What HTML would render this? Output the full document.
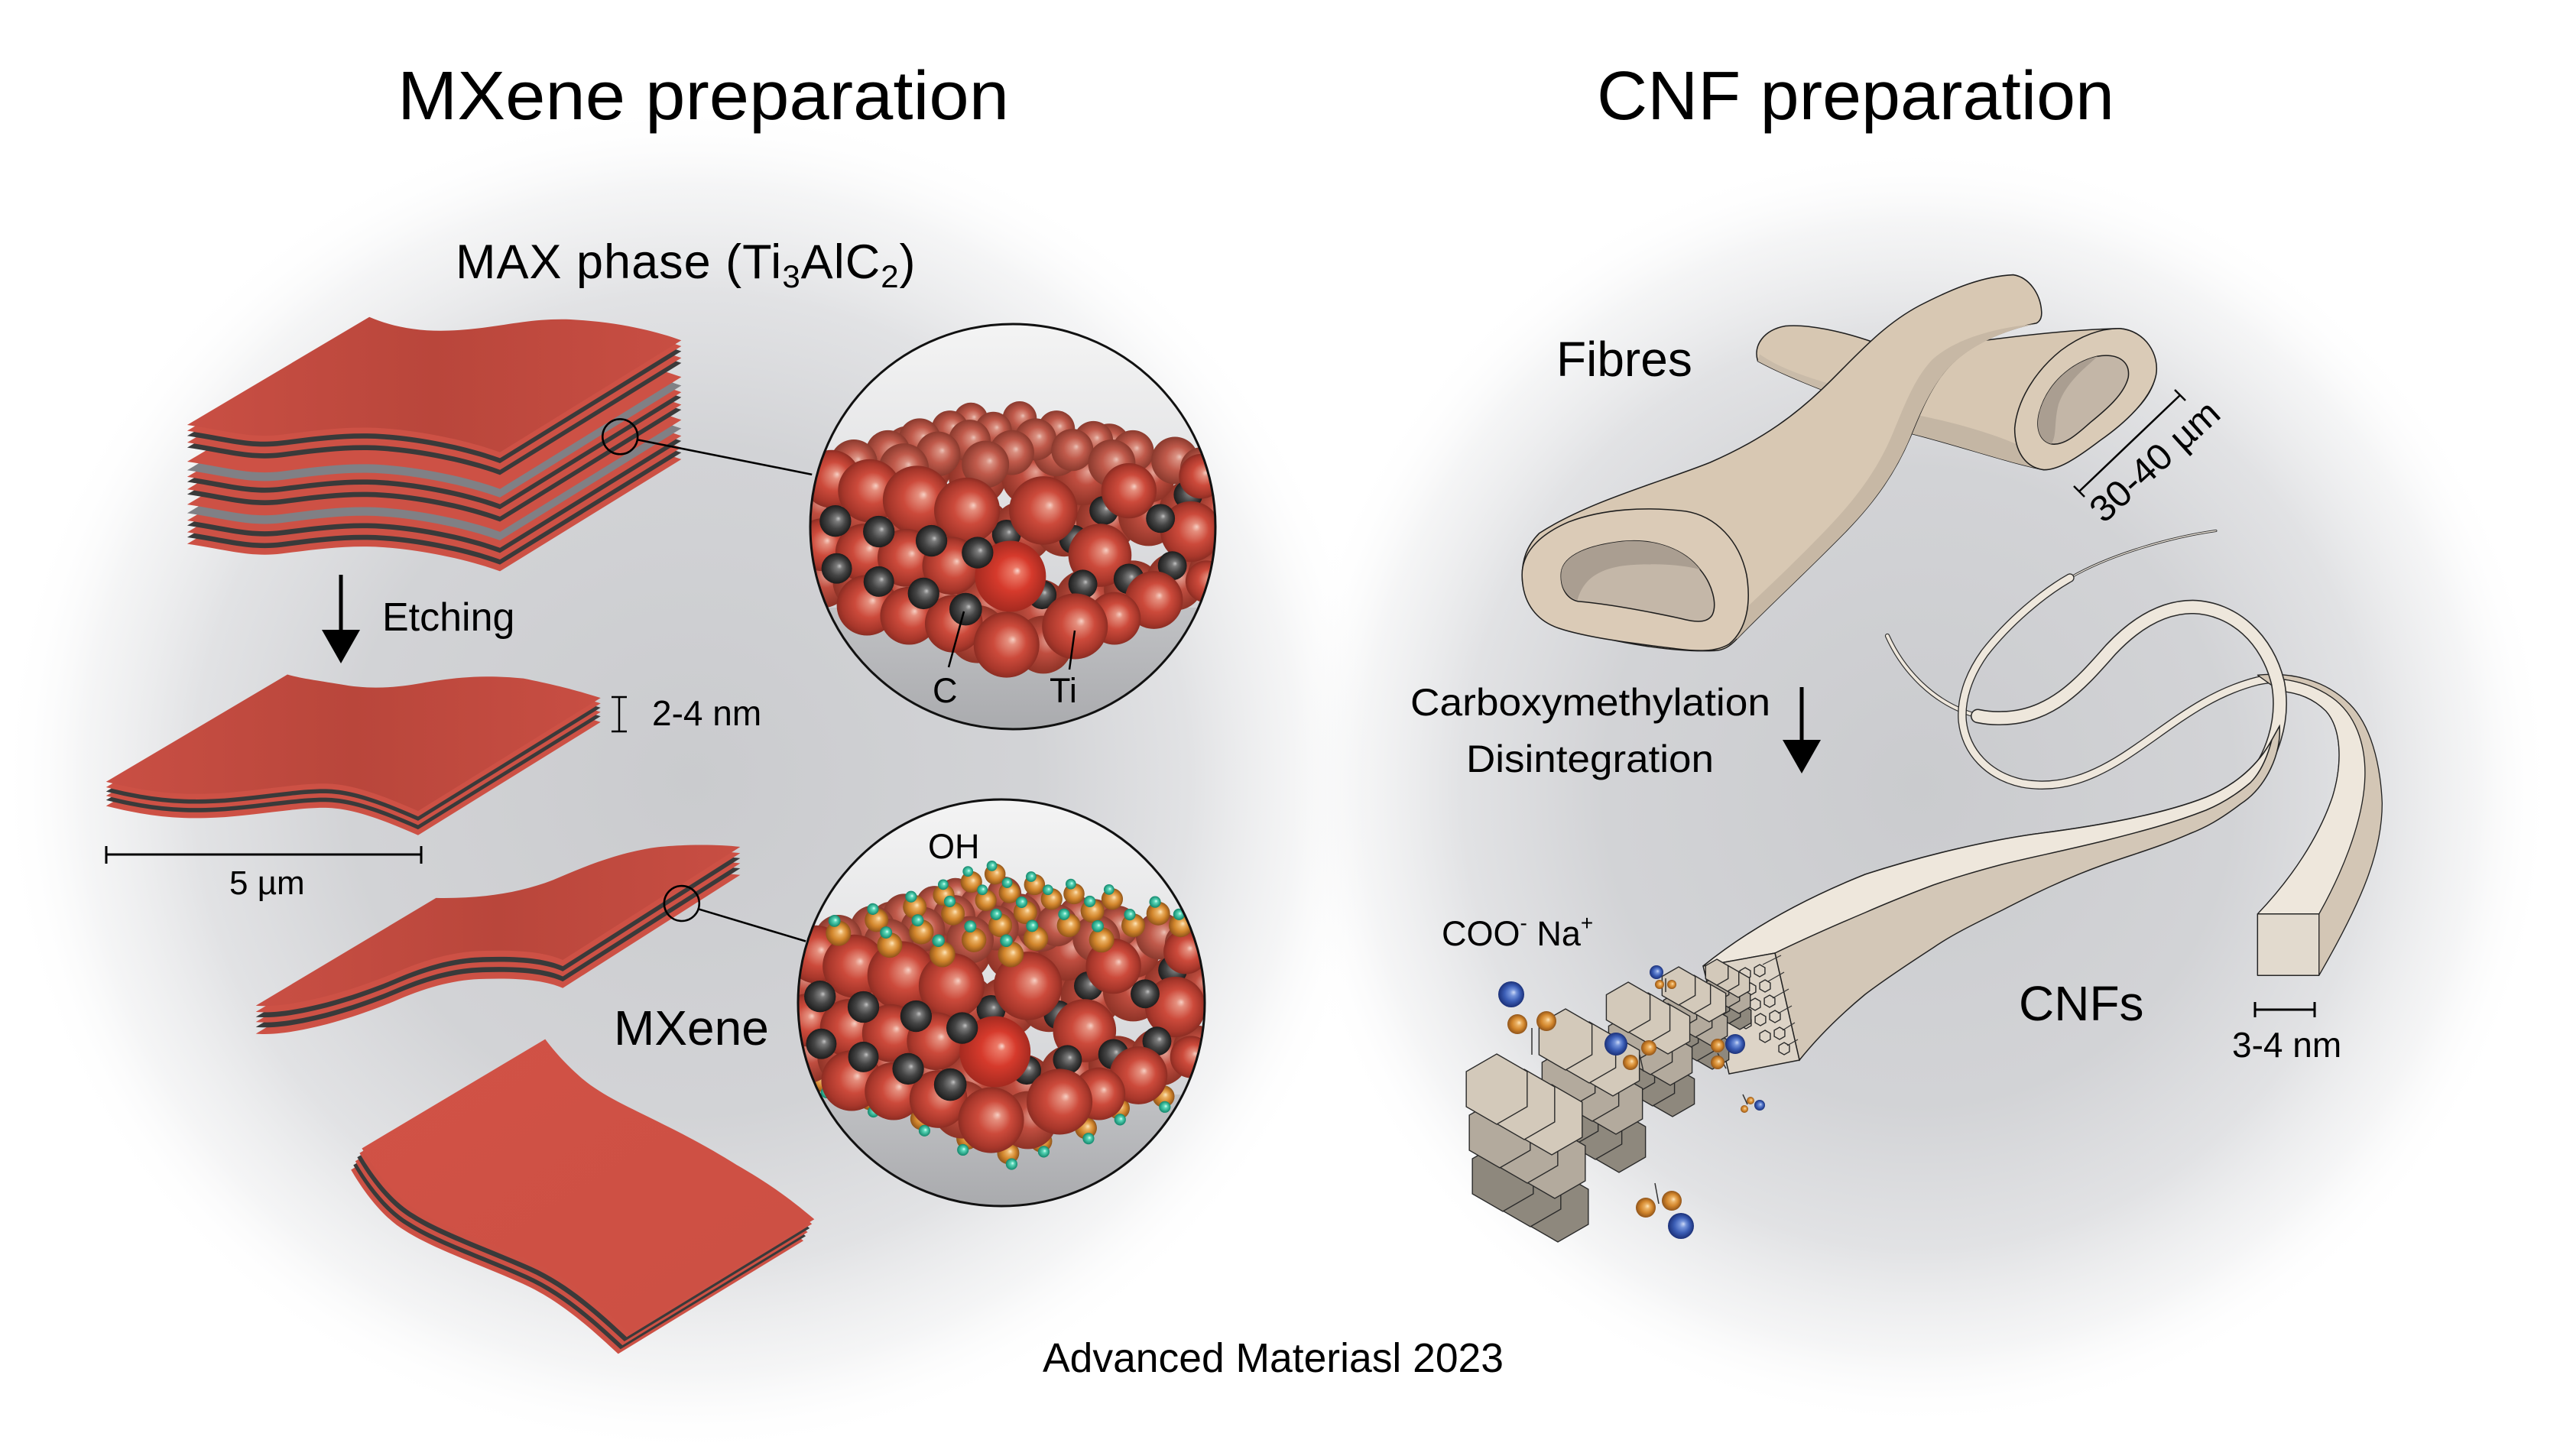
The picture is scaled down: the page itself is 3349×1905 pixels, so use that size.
<!DOCTYPE html>
<html>
<head>
<meta charset="utf-8">
<style>
html,body{margin:0;padding:0;background:#fff;}
body{width:3349px;height:1905px;overflow:hidden;}
svg{display:block;}
text{font-family:"Liberation Sans",Arial,sans-serif;fill:#000;}
</style>
</head>
<body>
<svg xmlns="http://www.w3.org/2000/svg" width="3349" height="1905" viewBox="0 0 3349 1905">
<defs>
  <radialGradient id="bgL" cx="0.5" cy="0.5" r="0.5">
    <stop offset="0" stop-color="#cacbce" stop-opacity="1"/>
    <stop offset="0.5" stop-color="#d0d1d4" stop-opacity="0.95"/>
    <stop offset="0.72" stop-color="#d6d7da" stop-opacity="0.72"/>
    <stop offset="0.88" stop-color="#e2e3e5" stop-opacity="0.35"/>
    <stop offset="1" stop-color="#ffffff" stop-opacity="0"/>
  </radialGradient>
  <linearGradient id="topMax" x1="0" y1="0" x2="1" y2="0">
    <stop offset="0" stop-color="#c94f44"/>
    <stop offset="0.5" stop-color="#b9463b"/>
    <stop offset="1" stop-color="#c84e43"/>
  </linearGradient>
  <linearGradient id="topS4" x1="0" y1="0" x2="1" y2="1">
    <stop offset="0" stop-color="#d15246"/>
    <stop offset="1" stop-color="#cc4f43"/>
  </linearGradient>
  <radialGradient id="gR" cx="0.5" cy="0.5" r="0.5" fx="0.6" fy="0.42">
    <stop offset="0" stop-color="#f7d0c4"/>
    <stop offset="0.14" stop-color="#e58f7e"/>
    <stop offset="0.5" stop-color="#cc4a3b"/>
    <stop offset="0.85" stop-color="#a8372b"/>
    <stop offset="1" stop-color="#8c2d23"/>
  </radialGradient>
  <radialGradient id="gR2" cx="0.5" cy="0.5" r="0.5" fx="0.6" fy="0.42">
    <stop offset="0" stop-color="#ecc3b8"/>
    <stop offset="0.15" stop-color="#d98f80"/>
    <stop offset="0.5" stop-color="#c05a4b"/>
    <stop offset="1" stop-color="#8a3a2e"/>
  </radialGradient>
  <radialGradient id="gR3" cx="0.5" cy="0.5" r="0.5" fx="0.6" fy="0.42">
    <stop offset="0" stop-color="#e5a497"/>
    <stop offset="0.4" stop-color="#c04e40"/>
    <stop offset="1" stop-color="#8e3327"/>
  </radialGradient>
  <radialGradient id="gRb" cx="0.5" cy="0.5" r="0.5" fx="0.6" fy="0.42">
    <stop offset="0" stop-color="#f9d9d0"/>
    <stop offset="0.12" stop-color="#ec7a68"/>
    <stop offset="0.5" stop-color="#d63a2c"/>
    <stop offset="1" stop-color="#a52a20"/>
  </radialGradient>
  <radialGradient id="gK" cx="0.5" cy="0.5" r="0.5" fx="0.6" fy="0.42">
    <stop offset="0" stop-color="#c4c4c4"/>
    <stop offset="0.18" stop-color="#7c7c7c"/>
    <stop offset="0.55" stop-color="#454545"/>
    <stop offset="1" stop-color="#1c1c1c"/>
  </radialGradient>
  <radialGradient id="gO" cx="0.5" cy="0.5" r="0.5" fx="0.6" fy="0.42">
    <stop offset="0" stop-color="#fde6bb"/>
    <stop offset="0.25" stop-color="#eab063"/>
    <stop offset="0.6" stop-color="#d2862c"/>
    <stop offset="1" stop-color="#90541a"/>
  </radialGradient>
  <radialGradient id="gT" cx="0.5" cy="0.5" r="0.5" fx="0.6" fy="0.42">
    <stop offset="0" stop-color="#e0fff6"/>
    <stop offset="0.3" stop-color="#5ad8b9"/>
    <stop offset="1" stop-color="#12876c"/>
  </radialGradient>
  <radialGradient id="gB" cx="0.5" cy="0.5" r="0.5" fx="0.6" fy="0.42">
    <stop offset="0" stop-color="#cdd9f6"/>
    <stop offset="0.25" stop-color="#7493da"/>
    <stop offset="0.6" stop-color="#3b5db5"/>
    <stop offset="1" stop-color="#1b3078"/>
  </radialGradient>
  <linearGradient id="cbg" x1="0" y1="0" x2="0" y2="1">
    <stop offset="0" stop-color="#f4f4f4"/>
    <stop offset="0.7" stop-color="#d4d5d8"/>
    <stop offset="1" stop-color="#c8c9cc"/>
  </linearGradient>
  <linearGradient id="floor" x1="0" y1="0" x2="0" y2="1">
    <stop offset="0" stop-color="#c1c2c5"/>
    <stop offset="1" stop-color="#a7a8ab"/>
  </linearGradient>
  <clipPath id="c1"><circle cx="1325" cy="689" r="265"/></clipPath>
  <clipPath id="c2"><circle cx="1310" cy="1312" r="266"/></clipPath>

  <!-- slab shapes -->
  <path id="s1" d="M88,345 C190,360 250,380 330,370 S480,350 560,352 S780,375 890,415 L1355,128 C1300,108 1200,80 1060,74 C950,72 880,98 760,103 C680,106 610,92 555,68 Z"/>
  <path id="s2" d="M-120,1260 C-20,1285 60,1295 160,1290 S380,1262 450,1265 S600,1300 680,1335 L1148,1045 C1100,1030 1050,1015 950,995 C850,985 780,992 700,1005 C630,1018 560,1025 480,1010 C420,1000 380,995 345,985 Z"/>
  <path id="s3" d="M68,462 C150,470 300,430 420,380 C500,345 570,325 640,322 C740,318 810,325 855,345 L1310,55 C1250,48 1150,48 1080,58 C980,75 900,110 830,140 C740,175 640,188 530,186 Z"/>
  <path id="s4" d="M340,828 C370,880 420,950 480,985 C550,1030 680,1075 780,1120 C880,1165 960,1240 1025,1300 L1500,1010 C1430,950 1370,910 1300,870 C1220,820 1160,790 1100,760 C1030,725 950,690 900,645 C860,610 830,575 810,548 Z"/>

  <path id="hx" d="M0,-1 L0.866,-0.5 L0.866,0.5 L0,1 L-0.866,0.5 L-0.866,-0.5 Z" stroke="#2a2a2a" stroke-width="1.4" vector-effect="non-scaling-stroke"/>

  <g id="atoms">
    <!-- filler base layer -->
    <g fill="url(#gR3)">
      <circle cx="40" cy="700" r="110"/><circle cx="190" cy="720" r="115"/><circle cx="340" cy="740" r="115"/><circle cx="500" cy="760" r="115"/><circle cx="660" cy="790" r="115"/><circle cx="820" cy="800" r="115"/><circle cx="980" cy="780" r="115"/><circle cx="1140" cy="760" r="115"/><circle cx="1300" cy="740" r="115"/><circle cx="1450" cy="720" r="110"/><circle cx="1560" cy="720" r="90"/>
      <circle cx="60" cy="980" r="110"/><circle cx="210" cy="990" r="110"/><circle cx="360" cy="1010" r="110"/><circle cx="520" cy="1040" r="110"/><circle cx="680" cy="1080" r="115"/><circle cx="880" cy="1100" r="120"/><circle cx="1060" cy="1060" r="115"/><circle cx="1240" cy="1020" r="110"/><circle cx="1400" cy="990" r="110"/><circle cx="1540" cy="960" r="90"/>
      <circle cx="900" cy="1230" r="110"/><circle cx="650" cy="1190" r="110"/>
      <circle cx="450" cy="560" r="100"/><circle cx="650" cy="590" r="110"/><circle cx="850" cy="590" r="110"/><circle cx="1050" cy="590" r="110"/><circle cx="1300" cy="590" r="100"/><circle cx="250" cy="610" r="100"/>
    </g>
    <g fill="url(#gR2)">
      <circle cx="950" cy="500" r="90"/><circle cx="1150" cy="470" r="80"/><circle cx="700" cy="470" r="80"/><circle cx="380" cy="480" r="80"/>
      <circle cx="625" cy="375" r="65"/><circle cx="810" cy="370" r="65"/>
      <circle cx="545" cy="410" r="70"/><circle cx="710" cy="415" r="70"/><circle cx="950" cy="410" r="70"/>
      <circle cx="430" cy="450" r="80"/><circle cx="620" cy="455" r="80"/><circle cx="870" cy="450" r="80"/><circle cx="1090" cy="455" r="75"/>
      <circle cx="310" cy="500" r="85"/><circle cx="500" cy="505" r="85"/><circle cx="780" cy="500" r="85"/><circle cx="1010" cy="490" r="80"/><circle cx="1240" cy="495" r="80"/>
      <circle cx="180" cy="540" r="90"/><circle cx="370" cy="560" r="95"/><circle cx="680" cy="545" r="90"/><circle cx="1160" cy="540" r="90"/><circle cx="1400" cy="530" r="90"/><circle cx="1500" cy="560" r="80"/>
      <circle cx="60" cy="590" r="95"/>
    </g>
    <g fill="url(#gK)">
      <circle cx="760" cy="810" r="55"/><circle cx="1130" cy="720" r="55"/><circle cx="1450" cy="660" r="55"/><circle cx="1015" cy="830" r="55"/>
    </g>
    <g fill="url(#gR)">
      <circle cx="95" cy="600" r="110"/><circle cx="240" cy="645" r="120"/><circle cx="420" cy="680" r="130"/><circle cx="610" cy="720" r="125"/><circle cx="900" cy="720" r="130"/><circle cx="1225" cy="645" r="105"/><circle cx="1500" cy="590" r="85"/>
      <circle cx="60" cy="850" r="100"/><circle cx="220" cy="880" r="110"/><circle cx="380" cy="900" r="110"/><circle cx="550" cy="930" r="110"/><circle cx="1115" cy="890" r="120"/><circle cx="1460" cy="800" r="115"/>
    </g>
    <g fill="url(#gK)">
      <circle cx="895" cy="1040" r="55"/><circle cx="1050" cy="1000" r="55"/><circle cx="1225" cy="980" r="58"/><circle cx="1390" cy="930" r="55"/><circle cx="1345" cy="750" r="55"/>
    </g>
    <g fill="url(#gR)">
      <circle cx="230" cy="1080" r="115"/><circle cx="390" cy="1120" r="110"/><circle cx="560" cy="1150" r="110"/><circle cx="1320" cy="1060" r="110"/><circle cx="1520" cy="990" r="80"/><circle cx="1170" cy="1130" r="100"/><circle cx="1020" cy="1160" r="125"/><circle cx="760" cy="1230" r="125"/>
    </g>
    <circle cx="775" cy="970" r="135" fill="url(#gRb)"/>
    <g fill="url(#gK)">
      <circle cx="110" cy="760" r="60"/><circle cx="275" cy="800" r="60"/><circle cx="475" cy="835" r="60"/><circle cx="650" cy="880" r="60"/>
      <circle cx="115" cy="940" r="58"/><circle cx="275" cy="990" r="58"/><circle cx="445" cy="1035" r="60"/><circle cx="605" cy="1095" r="62"/>
    </g>
  </g>
</defs>

<!-- background -->
<rect width="3349" height="1905" fill="#fff"/>
<ellipse cx="905" cy="1020" rx="905" ry="885" fill="url(#bgL)"/>
<ellipse cx="2510" cy="1030" rx="830" ry="840" fill="url(#bgL)"/>

<!-- titles -->
<text x="520" y="156" font-size="90" textLength="800" lengthAdjust="spacingAndGlyphs">MXene preparation</text>
<text x="2089" y="156" font-size="90" textLength="677" lengthAdjust="spacingAndGlyphs">CNF preparation</text>

<!-- MAX phase label -->
<text x="596" y="364" font-size="63" letter-spacing="1">MAX phase (Ti<tspan font-size="42" dy="12">3</tspan><tspan dy="-12">AlC</tspan><tspan font-size="42" dy="12">2</tspan><tspan dy="-12">)</tspan></text>

<!-- MAX stack and slab 2 (zoom5 coords) -->
<g transform="translate(200,380) scale(0.5102)">
  <use href="#s1" y="305" fill="#cd5145"/>
  <use href="#s1" y="288" fill="#3a3a3a"/>
  <use href="#s1" y="275" fill="#cd5145"/>
  <use href="#s1" y="258" fill="#3a3a3a"/>
  <use href="#s1" y="245" fill="#cd5145"/>
  <use href="#s1" y="226" fill="#808085"/>
  <use href="#s1" y="204" fill="#cd5145"/>
  <use href="#s1" y="178" fill="#3a3a3a"/>
  <use href="#s1" y="165" fill="#cd5145"/>
  <use href="#s1" y="146" fill="#3a3a3a"/>
  <use href="#s1" y="133" fill="#cd5145"/>
  <use href="#s1" y="116" fill="#808085"/>
  <use href="#s1" y="94" fill="#cd5145"/>
  <use href="#s1" y="58" fill="#3a3a3a"/>
  <use href="#s1" y="45" fill="#cd5145"/>
  <use href="#s1" y="28" fill="#3a3a3a"/>
  <use href="#s1" y="15" fill="#cd5145"/>
  <use href="#s1" fill="url(#topMax)"/>

  <use href="#s2" y="62" fill="#cd5145"/>
  <use href="#s2" y="47" fill="#3a3a3a"/>
  <use href="#s2" y="36" fill="#cd5145"/>
  <use href="#s2" y="25" fill="#3a3a3a"/>
  <use href="#s2" y="14" fill="#cd5145"/>
  <use href="#s2" fill="url(#topMax)"/>

  <circle cx="1198" cy="375" r="45" fill="none" stroke="#000" stroke-width="5"/>
  <line x1="1243" y1="383" x2="1690" y2="472" stroke="#000" stroke-width="5"/>
</g>

<!-- Etching arrow -->
<rect x="443.5" y="752" width="5" height="76" fill="#000"/>
<polygon points="421,824 471,824 446,868" fill="#000"/>
<text x="500" y="825" font-size="52">Etching</text>

<!-- 2-4 nm -->
<g stroke="#000" stroke-width="2.5">
  <line x1="810" y1="912" x2="810" y2="957"/>
  <line x1="800" y1="912" x2="820" y2="912"/>
  <line x1="800" y1="957" x2="820" y2="957"/>
</g>
<text x="853" y="949" font-size="46">2-4 nm</text>

<!-- 5 um -->
<g stroke="#000" stroke-width="3">
  <line x1="139" y1="1118" x2="551" y2="1118"/>
  <line x1="139" y1="1107" x2="139" y2="1130"/>
  <line x1="551" y1="1107" x2="551" y2="1130"/>
</g>
<text x="300" y="1170" font-size="44">5 µm</text>

<!-- circle 1 -->
<circle cx="1325" cy="689" r="265" fill="url(#cbg)"/>
<g clip-path="url(#c1)">
  <rect x="1050" y="795" width="560" height="180" fill="url(#floor)"/>
  <use href="#atoms" transform="translate(1055,420) scale(0.34435)"/>
</g>
<circle cx="1325" cy="689" r="265" fill="none" stroke="#111" stroke-width="3"/>
<g stroke="#000" stroke-width="2.5">
  <line x1="1261" y1="800" x2="1241" y2="873"/>
  <line x1="1406" y1="825" x2="1399" y2="876"/>
</g>
<text x="1220" y="919" font-size="45">C</text>
<text x="1373" y="919" font-size="45">Ti</text>

<!-- slab 3 and slab 4 (zoom6 coords) -->
<g transform="translate(300,1080) scale(0.5102)">
  <use href="#s3" y="72" fill="#cd5145"/>
  <use href="#s3" y="55" fill="#3a3a3a"/>
  <use href="#s3" y="42" fill="#cd5145"/>
  <use href="#s3" y="29" fill="#3a3a3a"/>
  <use href="#s3" y="16" fill="#cd5145"/>
  <use href="#s3" fill="url(#topMax)"/>

  <use href="#s4" transform="translate(-28,55)" fill="#cd5145"/>
  <use href="#s4" transform="translate(-22,43)" fill="#3a3a3a"/>
  <use href="#s4" transform="translate(-17,33)" fill="#cd5145"/>
  <use href="#s4" transform="translate(-12,23)" fill="#3a3a3a"/>
  <use href="#s4" transform="translate(-6,12)" fill="#cd5145"/>
  <use href="#s4" fill="url(#topS4)"/>

  <circle cx="1160" cy="200" r="45" fill="none" stroke="#000" stroke-width="5"/>
  <line x1="1205" y1="215" x2="1478" y2="297" stroke="#000" stroke-width="5"/>
</g>
<text x="803" y="1367" font-size="64">MXene</text>

<!-- circle 2 -->
<circle cx="1310" cy="1312" r="266" fill="url(#cbg)"/>
<g clip-path="url(#c2)">
  <rect x="1040" y="1432" width="560" height="160" fill="url(#floor)"/>
  <g transform="translate(1040,1042) scale(0.34435)">
    <g fill="url(#gO)">
      <circle cx="100" cy="1080" r="42"/><circle cx="285" cy="1150" r="42"/><circle cx="480" cy="1225" r="42"/><circle cx="655" cy="1300" r="42"/><circle cx="810" cy="1355" r="42"/><circle cx="935" cy="1310" r="42"/><circle cx="1105" cy="1260" r="42"/><circle cx="1230" cy="1185" r="42"/><circle cx="1400" cy="1140" r="42"/>
    </g>
    <g fill="url(#gT)">
      <circle cx="120" cy="1125" r="22"/><circle cx="298" cy="1198" r="22"/><circle cx="492" cy="1270" r="22"/><circle cx="638" cy="1343" r="22"/><circle cx="823" cy="1397" r="22"/><circle cx="945" cy="1350" r="22"/><circle cx="1115" cy="1300" r="22"/><circle cx="1235" cy="1228" r="22"/><circle cx="1405" cy="1180" r="22"/>
    </g>
    <use href="#atoms" x="-15" y="0"/>
    <g>
      <circle cx="760" cy="295" r="40" fill="url(#gO)"/><circle cx="748" cy="264" r="20" fill="url(#gT)"/>
      <circle cx="670" cy="325" r="41" fill="url(#gO)"/><circle cx="657" cy="285" r="20" fill="url(#gT)"/>
      <circle cx="910" cy="335" r="40" fill="url(#gO)"/><circle cx="897" cy="305" r="20" fill="url(#gT)"/>
      <circle cx="815" cy="365" r="41" fill="url(#gO)"/><circle cx="806" cy="328" r="20" fill="url(#gT)"/>
      <circle cx="1060" cy="370" r="40" fill="url(#gO)"/><circle cx="1048" cy="333" r="20" fill="url(#gT)"/>
      <circle cx="565" cy="375" r="41" fill="url(#gO)"/><circle cx="563" cy="335" r="20" fill="url(#gT)"/>
      <circle cx="975" cy="390" r="41" fill="url(#gO)"/><circle cx="961" cy="355" r="20" fill="url(#gT)"/>
      <circle cx="1205" cy="390" r="41" fill="url(#gO)"/><circle cx="1193" cy="354" r="20" fill="url(#gT)"/>
      <circle cx="725" cy="395" r="41" fill="url(#gO)"/><circle cx="712" cy="355" r="20" fill="url(#gT)"/>
      <circle cx="455" cy="420" r="45" fill="url(#gO)"/><circle cx="441" cy="381" r="22" fill="url(#gT)"/>
      <circle cx="1130" cy="435" r="45" fill="url(#gO)"/><circle cx="1120" cy="399" r="22" fill="url(#gT)"/>
      <circle cx="875" cy="440" r="45" fill="url(#gO)"/><circle cx="861" cy="402" r="22" fill="url(#gT)"/>
      <circle cx="600" cy="445" r="45" fill="url(#gO)"/><circle cx="588" cy="399" r="22" fill="url(#gT)"/>
      <circle cx="1380" cy="445" r="45" fill="url(#gO)"/><circle cx="1368" cy="401" r="22" fill="url(#gT)"/>
      <circle cx="310" cy="470" r="45" fill="url(#gO)"/><circle cx="296" cy="428" r="22" fill="url(#gT)"/>
      <circle cx="780" cy="490" r="45" fill="url(#gO)"/><circle cx="764" cy="448" r="22" fill="url(#gT)"/>
      <circle cx="1040" cy="490" r="45" fill="url(#gO)"/><circle cx="1022" cy="448" r="22" fill="url(#gT)"/>
      <circle cx="1285" cy="490" r="45" fill="url(#gO)"/><circle cx="1272" cy="449" r="22" fill="url(#gT)"/>
      <circle cx="1465" cy="490" r="45" fill="url(#gO)"/><circle cx="1459" cy="448" r="22" fill="url(#gT)"/>
      <circle cx="480" cy="515" r="47" fill="url(#gO)"/><circle cx="466" cy="471" r="23" fill="url(#gT)"/>
      <circle cx="165" cy="520" r="48" fill="url(#gO)"/><circle cx="150" cy="473" r="23" fill="url(#gT)"/>
      <circle cx="915" cy="540" r="47" fill="url(#gO)"/><circle cx="901" cy="492" r="23" fill="url(#gT)"/>
      <circle cx="680" cy="545" r="47" fill="url(#gO)"/><circle cx="666" cy="494" r="23" fill="url(#gT)"/>
      <circle cx="1165" cy="545" r="48" fill="url(#gO)"/><circle cx="1150" cy="493" r="23" fill="url(#gT)"/>
      <circle cx="360" cy="565" r="48" fill="url(#gO)"/><circle cx="346" cy="517" r="23" fill="url(#gT)"/>
      <circle cx="560" cy="600" r="49" fill="url(#gO)"/><circle cx="545" cy="548" r="24" fill="url(#gT)"/>
      <circle cx="820" cy="600" r="49" fill="url(#gO)"/><circle cx="803" cy="548" r="24" fill="url(#gT)"/>
    </g>
  </g>
</g>
<circle cx="1310" cy="1312" r="266" fill="none" stroke="#111" stroke-width="3"/>
<text x="1214" y="1123" font-size="45">OH</text>

<!-- ================= CNF side ================= -->
<text x="2036" y="492" font-size="64">Fibres</text>

<!-- fibres (zoom7 coords) -->
<g transform="translate(1950,350) scale(0.6378)" stroke="#1e1e1e" stroke-width="2.4" stroke-linejoin="round">
  <path d="M548,192 C538,160 560,128 605,120 C650,116 720,130 790,155 L1010,150 C1100,138 1200,127 1290,125 C1340,128 1368,175 1365,215 C1360,262 1320,300 1270,338 C1220,378 1180,410 1135,415 C1060,400 960,365 860,340 C800,320 740,290 690,255 C640,235 590,215 548,192 Z" fill="#d7c7b2"/>
  <path d="M860,300 C960,318 1060,350 1112,378 L1135,415 C1060,400 960,365 860,340 Z" fill="#c4b6a4" stroke="none"/>
  <path d="M548,192 C590,215 640,235 690,255 L700,240 C640,222 590,205 552,178 Z" fill="#c9bba9" stroke="none"/>
  <path d="M1290,125 C1345,130 1372,180 1365,220 C1355,270 1300,320 1250,355 C1200,393 1165,415 1135,415 C1095,410 1075,375 1075,330 C1080,270 1120,210 1170,170 C1210,140 1250,125 1290,125 Z" fill="#dacbb7"/>
  <path d="M1125,300 C1140,240 1190,195 1245,182 C1290,175 1312,195 1308,225 C1300,260 1262,292 1230,318 C1200,345 1175,366 1150,362 C1126,356 1118,330 1125,300 Z" fill="#c3b6a7"/>
  <path d="M1125,300 C1140,240 1190,195 1245,182 C1225,202 1182,232 1165,280 C1155,318 1162,345 1150,362 C1126,356 1118,330 1125,300 Z" fill="#aa9e91" stroke="none"/>

  <path d="M100,545 C200,480 350,440 450,400 C560,352 630,300 700,230 C760,170 810,115 880,78 C950,42 1010,18 1072,15 C1105,20 1128,55 1130,90 C1131,102 1127,110 1120,114 C1050,128 985,158 945,198 C905,238 880,300 860,350 C830,420 790,478 730,540 C650,622 565,700 505,762 C490,778 478,785 460,786 C380,790 250,770 170,742 C110,722 68,690 65,640 C63,600 75,570 100,545 Z" fill="#d8c8b3"/>
  <path d="M1116,116 C1050,130 985,160 945,200 C905,240 880,300 860,350 C830,420 790,478 730,540 C650,622 565,700 505,762 L485,735 C560,665 640,590 705,520 C765,455 800,400 825,340 C848,285 868,230 905,190 C950,148 1030,124 1116,116 Z" fill="#c7b8a5" stroke="none"/>
  <path d="M65,640 C60,590 95,550 160,522 C230,495 320,490 400,500 C462,510 510,560 525,630 C535,690 525,742 490,772 C462,790 420,787 380,782 C300,772 200,760 140,740 C95,725 68,690 65,640 Z" fill="#dbcbb7"/>
  <path d="M145,625 C150,590 200,570 270,562 C340,555 400,580 430,620 C455,650 465,690 455,712 C445,730 420,728 390,720 C320,705 240,690 180,685 C155,680 142,655 145,625 Z" fill="#c4b7a8"/>
  <path d="M145,625 C150,590 200,570 270,562 C340,555 400,580 430,620 C400,610 330,605 270,612 C220,620 190,640 178,682 C155,676 142,655 145,625 Z" fill="#aa9e91" stroke="none"/>
</g>

<!-- 30-40 um -->
<g stroke="#000" stroke-width="2.5">
  <line x1="2720" y1="643" x2="2852" y2="517"/>
  <line x1="2713" y1="636" x2="2727" y2="650"/>
  <line x1="2845" y1="510" x2="2859" y2="524"/>
</g>
<text transform="translate(2752,686) rotate(-42.2)" font-size="48" textLength="210" lengthAdjust="spacingAndGlyphs">30-40 µm</text>

<!-- process labels -->
<text x="1845" y="936" font-size="50" textLength="471" lengthAdjust="spacingAndGlyphs">Carboxymethylation</text>
<text x="1918" y="1010" font-size="50" textLength="324" lengthAdjust="spacingAndGlyphs">Disintegration</text>
<rect x="2354.5" y="899" width="5" height="72" fill="#000"/>
<polygon points="2332,968 2382,968 2357,1012" fill="#000"/>

<!-- ribbons (zoom11 coords) -->
<g transform="translate(2440,640) scale(0.44643)" stroke-linecap="round" stroke-linejoin="round">
  <path d="M65,430 C110,530 200,630 330,665" fill="none" stroke="#2a2a2a" stroke-width="14"/>
  <path d="M65,430 C110,530 200,630 330,665" fill="none" stroke="#eee7dc" stroke-width="9"/>
  <path d="M1028,122 C900,140 720,190 600,260" fill="none" stroke="#2a2a2a" stroke-width="7"/>
  <path d="M1028,122 C900,140 720,190 600,260" fill="none" stroke="#eee7dc" stroke-width="3"/>
  <path d="M600,260 C520,305 420,390 350,480 C300,550 280,620 285,680 C295,770 360,840 460,862 C570,882 670,845 780,770 C900,690 1000,600 1150,562 C1180,556 1200,555 1220,556" fill="none" stroke="#2a2a2a" stroke-width="26"/>
  <path d="M600,260 C520,305 420,390 350,480 C300,550 280,620 285,680 C295,770 360,840 460,862 C570,882 670,845 780,770 C900,690 1000,600 1150,562 C1180,556 1200,555 1220,556" fill="none" stroke="#eee7dc" stroke-width="20"/>

  <path d="M1150,545 C1250,535 1350,560 1420,630 C1480,690 1510,800 1515,920 C1515,1060 1460,1200 1330,1425 L1150,1425 L1150,1245 C1250,1140 1330,1020 1370,900 C1400,800 1395,700 1350,650 C1310,610 1260,595 1215,592 Z" fill="#d3c6b5" stroke="#222" stroke-width="3"/>
  <path d="M1215,592 C1260,595 1310,610 1350,650 C1395,700 1400,800 1370,900 C1330,1020 1250,1140 1150,1245 L1330,1245 C1400,1120 1450,990 1462,880 C1475,760 1440,670 1380,620 C1330,580 1270,560 1200,555 Z" fill="#eee7dc" stroke="#222" stroke-width="3"/>
  <rect x="1150" y="1245" width="180" height="180" fill="#e2dace" stroke="#222" stroke-width="3"/>

  <path d="M330,665 C355,670 380,672 400,671 C550,670 640,560 720,470 C800,385 880,345 960,345 C1080,348 1180,440 1210,570 C1230,680 1190,790 1130,858" fill="none" stroke="#2a2a2a" stroke-width="42"/>
  <path d="M330,665 C355,670 380,672 400,671 C550,670 640,560 720,470 C800,385 880,345 960,345 C1080,348 1180,440 1210,570 C1230,680 1190,790 1130,858" fill="none" stroke="#eee7dc" stroke-width="35"/>
</g>

<!-- wide ribbon (real coords) -->
<path d="M2228,1264 C2280,1222 2350,1180 2440,1144 C2520,1118 2600,1100 2663,1091 C2750,1080 2830,1065 2886,1043 C2925,1027 2955,1000 2972,968 L2982,950 C2985,985 2965,1030 2931,1052 C2905,1072 2885,1083 2864,1091 C2825,1108 2790,1118 2753,1131 C2700,1150 2660,1170 2619,1191 C2580,1210 2552,1224 2529,1240 C2492,1264 2465,1282 2440,1301 C2405,1330 2378,1357 2354,1387 L2322,1247 Z" fill="#d3c7b7" stroke="#222" stroke-width="1.5"/>
<path d="M2228,1264 C2280,1222 2350,1180 2440,1144 C2520,1118 2600,1100 2663,1091 C2750,1080 2830,1065 2886,1043 C2925,1027 2955,1000 2972,968 C2965,995 2955,1013 2944,1024 C2925,1040 2905,1052 2886,1060 C2840,1078 2800,1088 2753,1100 C2700,1113 2660,1121 2619,1131 C2585,1140 2555,1149 2529,1158 C2492,1172 2465,1183 2440,1194 C2395,1213 2355,1231 2322,1247 Z" fill="#eee7dc" stroke="#222" stroke-width="1.5"/>
<!-- end face -->
<polygon points="2228,1264 2322,1247 2354,1387 2262,1405" fill="#ddd4c7" stroke="#222" stroke-width="1.5"/>
<g fill="none">
  <use href="#hx" transform="translate(2245,1282) scale(8)"/><use href="#hx" transform="translate(2264,1278) scale(8)"/><use href="#hx" transform="translate(2283,1274) scale(8)"/><use href="#hx" transform="translate(2302,1270) scale(8)"/>
  <use href="#hx" transform="translate(2252,1302) scale(8)"/><use href="#hx" transform="translate(2271,1298) scale(8)"/><use href="#hx" transform="translate(2290,1294) scale(8)"/><use href="#hx" transform="translate(2309,1290) scale(8)"/>
  <use href="#hx" transform="translate(2258,1322) scale(8)"/><use href="#hx" transform="translate(2277,1318) scale(8)"/><use href="#hx" transform="translate(2296,1314) scale(8)"/><use href="#hx" transform="translate(2315,1310) scale(8)"/>
  <use href="#hx" transform="translate(2284,1338) scale(8)"/><use href="#hx" transform="translate(2303,1334) scale(8)"/><use href="#hx" transform="translate(2322,1330) scale(8)"/>
  <use href="#hx" transform="translate(2309,1356) scale(8)"/><use href="#hx" transform="translate(2328,1352) scale(8)"/><use href="#hx" transform="translate(2334,1372) scale(8)"/>
</g>
<g stroke="#333" stroke-width="1.2">
  <line x1="2306" y1="1262" x2="2330" y2="1250"/><line x1="2313" y1="1284" x2="2334" y2="1272"/><line x1="2319" y1="1306" x2="2340" y2="1294"/>
  <line x1="2326" y1="1326" x2="2344" y2="1316"/><line x1="2332" y1="1348" x2="2348" y2="1338"/><line x1="2338" y1="1368" x2="2352" y2="1360"/>
</g>

<!-- bundle of hexagonal blocks -->
<g>
  <use href="#hx" transform="translate(2276,1330) scale(17)" fill="#8e887d"/><use href="#hx" transform="translate(2262,1322) scale(17)" fill="#8e887d"/><use href="#hx" transform="translate(2248,1314) scale(17)" fill="#8e887d"/>
  <use href="#hx" transform="translate(2275,1309) scale(17)" fill="#b3aa9d"/><use href="#hx" transform="translate(2261,1301) scale(17)" fill="#b3aa9d"/><use href="#hx" transform="translate(2247,1293) scale(17)" fill="#b3aa9d"/>
  <use href="#hx" transform="translate(2274,1288) scale(17)" fill="#d3c9ba"/><use href="#hx" transform="translate(2260,1280) scale(17)" fill="#d3c9ba"/><use href="#hx" transform="translate(2246,1272) scale(17)" fill="#d3c9ba"/>

  <use href="#hx" transform="translate(2240,1374) scale(25)" fill="#8e887d"/><use href="#hx" transform="translate(2220,1363) scale(25)" fill="#8e887d"/><use href="#hx" transform="translate(2200,1352) scale(25)" fill="#8e887d"/>
  <use href="#hx" transform="translate(2238,1343) scale(25)" fill="#b3aa9d"/><use href="#hx" transform="translate(2218,1332) scale(25)" fill="#b3aa9d"/><use href="#hx" transform="translate(2198,1321) scale(25)" fill="#b3aa9d"/>
  <use href="#hx" transform="translate(2236,1312) scale(25)" fill="#d3c9ba"/><use href="#hx" transform="translate(2216,1301) scale(25)" fill="#d3c9ba"/><use href="#hx" transform="translate(2196,1290) scale(25)" fill="#d3c9ba"/>

  <use href="#hx" transform="translate(2188,1428) scale(33)" fill="#8e887d"/><use href="#hx" transform="translate(2162,1414) scale(33)" fill="#8e887d"/><use href="#hx" transform="translate(2136,1400) scale(33)" fill="#8e887d"/>
  <use href="#hx" transform="translate(2185,1387) scale(33)" fill="#b3aa9d"/><use href="#hx" transform="translate(2159,1373) scale(33)" fill="#b3aa9d"/><use href="#hx" transform="translate(2133,1359) scale(33)" fill="#b3aa9d"/>
  <use href="#hx" transform="translate(2182,1346) scale(33)" fill="#d3c9ba"/><use href="#hx" transform="translate(2156,1332) scale(33)" fill="#d3c9ba"/><use href="#hx" transform="translate(2130,1318) scale(33)" fill="#d3c9ba"/>

  <use href="#hx" transform="translate(2118,1494) scale(40)" fill="#8e887d"/><use href="#hx" transform="translate(2087,1477) scale(40)" fill="#8e887d"/><use href="#hx" transform="translate(2056,1460) scale(40)" fill="#8e887d"/>
  <use href="#hx" transform="translate(2114,1444) scale(40)" fill="#b3aa9d"/><use href="#hx" transform="translate(2083,1427) scale(40)" fill="#b3aa9d"/><use href="#hx" transform="translate(2052,1410) scale(40)" fill="#b3aa9d"/>
  <use href="#hx" transform="translate(2110,1394) scale(40)" fill="#d3c9ba"/><use href="#hx" transform="translate(2079,1377) scale(40)" fill="#d3c9ba"/><use href="#hx" transform="translate(2048,1360) scale(40)" fill="#d3c9ba"/>

  <use href="#hx" transform="translate(2038,1579) scale(46)" fill="#8e887d"/><use href="#hx" transform="translate(2002,1559) scale(46)" fill="#8e887d"/><use href="#hx" transform="translate(1966,1539) scale(46)" fill="#8e887d"/>
  <use href="#hx" transform="translate(2034,1522) scale(46)" fill="#b3aa9d"/><use href="#hx" transform="translate(1998,1502) scale(46)" fill="#b3aa9d"/><use href="#hx" transform="translate(1962,1482) scale(46)" fill="#b3aa9d"/>
  <use href="#hx" transform="translate(2030,1465) scale(46)" fill="#d3c9ba"/><use href="#hx" transform="translate(1994,1445) scale(46)" fill="#d3c9ba"/><use href="#hx" transform="translate(1958,1425) scale(46)" fill="#d3c9ba"/>
</g>

<!-- molecules -->
<g stroke="#333" stroke-width="1.5">
  <line x1="2004" y1="1345" x2="2004" y2="1380"/><line x1="2145" y1="1380" x2="2150" y2="1402"/>
  <line x1="2247" y1="1378" x2="2258" y2="1398"/><line x1="2170" y1="1575" x2="2165" y2="1548"/>
  <line x1="2179" y1="1280" x2="2179" y2="1298"/><line x1="2286" y1="1445" x2="2280" y2="1432"/>
</g>
<circle cx="1977" cy="1301" r="17" fill="url(#gB)"/>
<circle cx="1985" cy="1340" r="13" fill="url(#gO)"/><circle cx="2023" cy="1336" r="13" fill="url(#gO)"/>
<circle cx="2114" cy="1366" r="15" fill="url(#gB)"/>
<circle cx="2157" cy="1371" r="10" fill="url(#gO)"/><circle cx="2133" cy="1390" r="10" fill="url(#gO)"/>
<circle cx="2270" cy="1366" r="13" fill="url(#gB)"/>
<circle cx="2247" cy="1368" r="9" fill="url(#gO)"/><circle cx="2247" cy="1390" r="9" fill="url(#gO)"/>
<circle cx="2167" cy="1272" r="9" fill="url(#gB)"/>
<circle cx="2171" cy="1288" r="6" fill="url(#gO)"/><circle cx="2187" cy="1288" r="6" fill="url(#gO)"/>
<circle cx="2302" cy="1446" r="7" fill="url(#gB)"/>
<circle cx="2290" cy="1440" r="5" fill="url(#gO)"/><circle cx="2282" cy="1451" r="5" fill="url(#gO)"/>
<circle cx="2153" cy="1580" r="13" fill="url(#gO)"/><circle cx="2187" cy="1571" r="13" fill="url(#gO)"/>
<circle cx="2199" cy="1604" r="17" fill="url(#gB)"/>

<text x="1886" y="1237" font-size="45">COO<tspan font-size="28" dy="-20">-</tspan><tspan dy="20"> Na</tspan><tspan font-size="28" dy="-20">+</tspan></text>

<text x="2641" y="1335" font-size="64">CNFs</text>

<!-- 3-4 nm -->
<g stroke="#000" stroke-width="3">
  <line x1="2950" y1="1321" x2="3028" y2="1321"/>
  <line x1="2950" y1="1311" x2="2950" y2="1331"/>
  <line x1="3028" y1="1311" x2="3028" y2="1331"/>
</g>
<text x="2920" y="1383" font-size="46">3-4 nm</text>

<!-- footer -->
<text x="1364" y="1795" font-size="54" textLength="603" lengthAdjust="spacingAndGlyphs">Advanced Materiasl 2023</text>
</svg>
</body>
</html>
